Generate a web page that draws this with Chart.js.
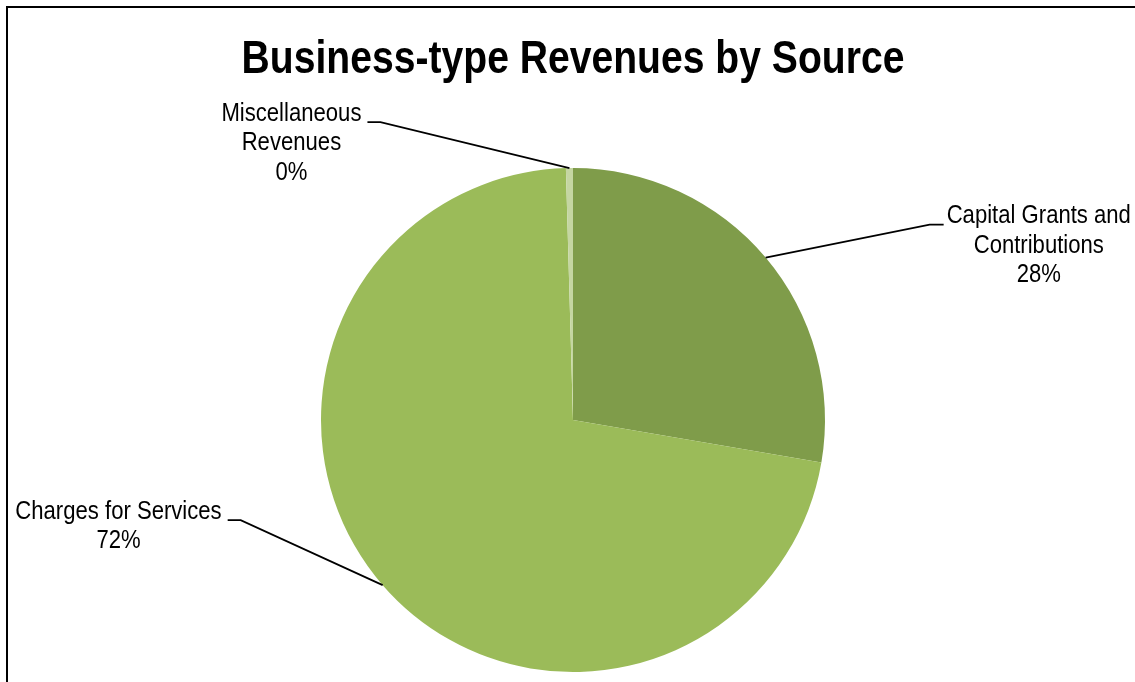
<!DOCTYPE html>
<html>
<head>
<meta charset="utf-8">
<script src="https://cdn.jsdelivr.net/npm/chart.js@4"></script>
<style>
  html, body { margin: 0; padding: 0; background: #fff; }
  #wrap { width: 1135px; height: 682px; }
</style>
</head>
<body>
<div id="wrap"><canvas id="revenuePie"></canvas></div>
<script>
const chartTitle = 'Business-type Revenues by Source'
const categories = ['Capital Grants and Contributions', 'Charges for Services', 'Miscellaneous Revenues']
const labelLines = [['Capital Grants and', 'Contributions'], ['Charges for Services'], ['Miscellaneous', 'Revenues']]
const shares = [27.7, 71.85, 0.45]
const sliceColors = ['#7f9c4a', '#9bbb59', '#c5d6a2']

const fontFamily = '"Liberation Sans", Arial, sans-serif'
// no narrow font here, so squeeze the text sideways
const narrow = 0.85

// where each label's elbow sits, relative to the slice's outer mid point
const elbowOffsets = [[164, -33], [-142, -65], [-189, -46]]

function narrowText(ctx, text, x, y, squeeze) {
    ctx.save()
    ctx.translate(x, y)
    ctx.scale(squeeze, 1)
    ctx.fillText(text, 0, 0)
    ctx.restore()
}

const frame = {
    id: 'frame',
    beforeDraw(chart) {
        const ctx = chart.ctx
        ctx.save()
        ctx.fillStyle = '#fff'
        ctx.fillRect(0, 0, chart.width, chart.height)
        ctx.strokeStyle = '#000'
        ctx.lineWidth = 2
        ctx.strokeRect(7, 7, chart.width + 50, chart.height + 50)
        ctx.fillStyle = '#000'
        ctx.font = 'bold 46px ' + fontFamily
        ctx.textAlign = 'center'
        ctx.textBaseline = 'alphabetic'
        const area = chart.chartArea
        narrowText(ctx, chartTitle, (area.left + area.right) / 2, 73, 0.85)
        ctx.restore()
    }
}

const leaderLabels = {
    id: 'leaderLabels',
    afterDraw(chart) {
        const ctx = chart.ctx
        const total = shares.reduce((a, b) => a + b, 0)
        const arcs = chart.getDatasetMeta(0).data
        ctx.save()
        ctx.font = '26px ' + fontFamily
        ctx.fillStyle = '#000'
        ctx.strokeStyle = '#000'
        ctx.lineWidth = 1.8
        arcs.forEach((arc, i) => {
            const mid = (arc.startAngle + arc.endAngle) / 2
            const px = arc.x + Math.cos(mid) * arc.outerRadius
            const py = arc.y + Math.sin(mid) * arc.outerRadius
            const ex = px + elbowOffsets[i][0]
            const ey = py + elbowOffsets[i][1]
            const right = elbowOffsets[i][0] > 0
            const hx = ex + (right ? 14 : -13)
            ctx.beginPath()
            ctx.moveTo(px, py)
            ctx.lineTo(ex, ey)
            ctx.lineTo(hx, ey)
            ctx.stroke()
            const lines = labelLines[i].concat([Math.round(shares[i] / total * 100) + '%'])
            const widest = Math.max(...lines.map(t => ctx.measureText(t).width)) * narrow
            const cx = right ? hx + 3 + widest / 2 : hx - 6 - widest / 2
            ctx.textAlign = 'center'
            ctx.textBaseline = 'middle'
            lines.forEach((t, k) => {
                narrowText(ctx, t, cx, ey - 8.5 + k * 29.5, narrow)
            })
        })
        ctx.restore()
    }
}

new Chart(document.getElementById('revenuePie').getContext('2d'), {
    type: 'pie',
    data: {
        labels: categories,
        datasets: [{
            data: shares,
            backgroundColor: sliceColors,
            borderWidth: 0
        }]
    },
    options: {
        responsive: true,
        maintainAspectRatio: false,
        animation: false,
        layout: {
            padding: { top: 168, bottom: 10, left: 100, right: 89 }
        },
        plugins: {
            legend: { display: false },
            tooltip: { enabled: false },
            title: { display: false }
        }
    },
    plugins: [frame, leaderLabels]
})
</script>
</body>
</html>
